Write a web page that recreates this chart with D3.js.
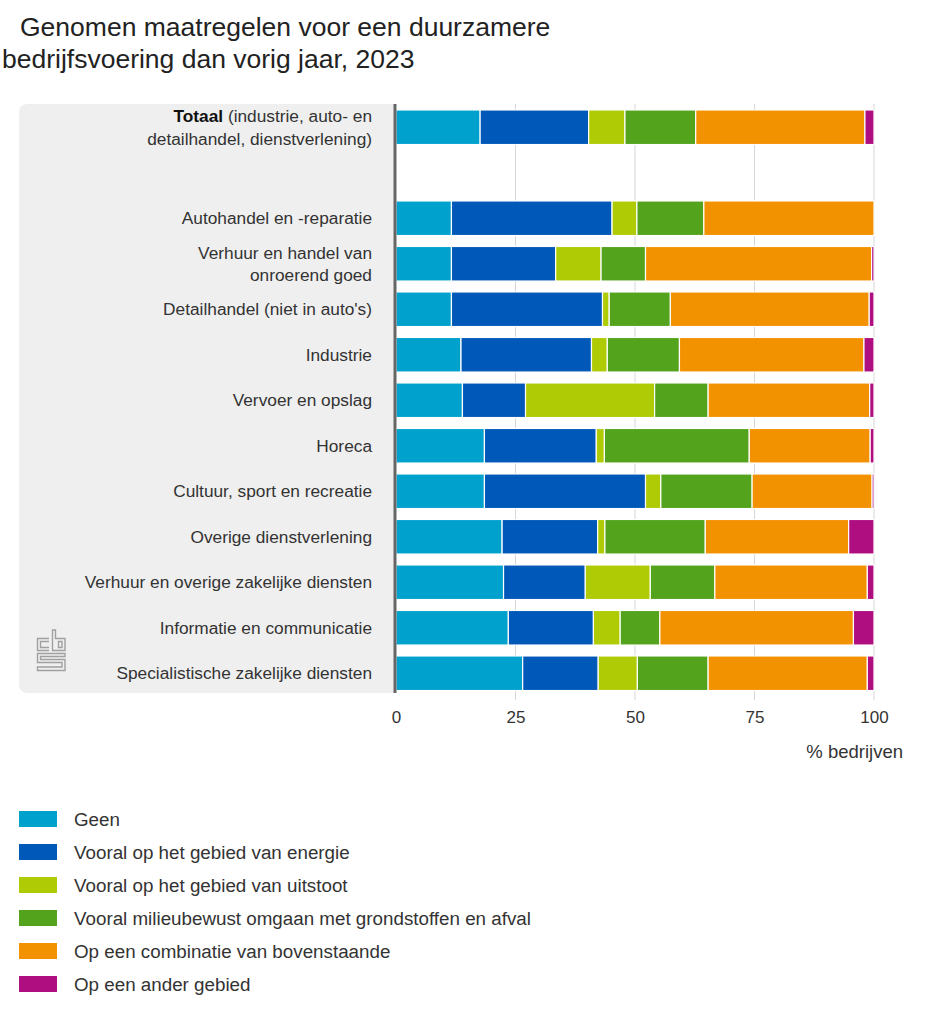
<!DOCTYPE html>
<html lang="nl">
<head>
<meta charset="UTF-8">
<title>Genomen maatregelen</title>
<script src="https://d3js.org/d3.v7.min.js"></script>
<style>
  body { margin: 0; background: #fff; font-family: "Liberation Sans", Arial, sans-serif; }
  svg { display: block; }
  .title { font-size: 26.5px; fill: #222; }
  .cat { font-size: 17.3px; fill: #333; }
  .tick text { font-size: 17px; fill: #333; font-family: "Liberation Sans", Arial, sans-serif; }
  .legend text { font-size: 18.8px; fill: #333; }
</style>
</head>
<body>
<svg id="chart" width="945" height="1024"></svg>
<script>
// categories (top to bottom), "gap" is the empty slot under Totaal
const categories = [
  "Totaal", "gap",
  "Autohandel en -reparatie",
  "Verhuur en handel van onroerend goed",
  "Detailhandel (niet in auto's)",
  "Industrie",
  "Vervoer en opslag",
  "Horeca",
  "Cultuur, sport en recreatie",
  "Overige dienstverlening",
  "Verhuur en overige zakelijke diensten",
  "Informatie en communicatie",
  "Specialistische zakelijke diensten"
];
const seriesNames = [
  "Geen",
  "Vooral op het gebied van energie",
  "Vooral op het gebied van uitstoot",
  "Vooral milieubewust omgaan met grondstoffen en afval",
  "Op een combinatie van bovenstaande",
  "Op een ander gebied"
];
const seriesColors = ["#00a1cd", "#0058b8", "#afcb05", "#53a31d", "#f39200", "#af0e80"];

// values in % bedrijven, same order as categories (null for the gap)
const geen       = [17.6, null, 11.6, 11.6, 11.6, 13.6, 13.9, 18.5, 18.5, 22.2, 22.5, 23.5, 26.5];
const energie    = [22.7, null, 33.6, 21.8, 31.6, 27.3, 13.2, 23.4, 33.7, 20.0, 17.1, 17.8, 15.8];
const uitstoot   = [7.6,  null, 5.2,  9.5,  1.4,  3.3,  27.0, 1.7,  3.2,  1.5,  13.6, 5.6,  8.2];
const milieu     = [14.8, null, 14.0, 9.3,  12.8, 15.1, 11.2, 30.3, 19.1, 21.0, 13.5, 8.3,  14.8];
const combinatie = [35.4, null, 35.6, 47.3, 41.6, 38.6, 33.8, 25.3, 25.1, 30.0, 31.9, 40.5, 33.3];
const ander      = [1.9,  null, 0.0,  0.5,  1.0,  2.1,  0.9,  0.8,  0.4,  5.3,  1.4,  4.3,  1.4];
const xTicks = [0, 25, 50, 75, 100];

const svg = d3.select("#chart");
const seriesKeys = ["geen", "energie", "uitstoot", "milieu", "combinatie", "ander"];
const table = categories.map((c, i) => ({
  cat: c, geen: geen[i], energie: energie[i], uitstoot: uitstoot[i],
  milieu: milieu[i], combinatie: combinatie[i], ander: ander[i]
})).filter(d => d.cat !== "gap");

const x = d3.scaleLinear().domain([0, 100]).range([396, 874]);
const y = d3.scaleBand().domain(categories).range([104.5, 696]).paddingInner(0.24).paddingOuter(0.12);

// title
svg.append("text").attr("class", "title").attr("x", 20).attr("y", 36).text("Genomen maatregelen voor een duurzamere");
svg.append("text").attr("class", "title").attr("x", 2).attr("y", 68).text("bedrijfsvoering dan vorig jaar, 2023");

// grey label panel
svg.append("path")
  .attr("fill", "#efefef")
  .attr("d", () => {
    const x0 = 19, x1 = 396, y0 = 104, y1 = 693, r = 9;
    return `M${x1},${y0} H${x0 + r} Q${x0},${y0} ${x0},${y0 + r} V${y1 - r} Q${x0},${y1} ${x0 + r},${y1} H${x1} Z`;
  });

// gridlines
svg.append("g").selectAll("line").data(xTicks.slice(1)).join("line")
  .attr("x1", d => x(d)).attr("x2", d => x(d))
  .attr("y1", 104).attr("y2", 700)
  .attr("stroke", "#d6d6d6").attr("stroke-width", 1);

// stacked bars
const stack = d3.stack().keys(seriesKeys)(table);
svg.append("g").selectAll("g").data(stack).join("g")
  .attr("fill", (d, i) => seriesColors[i])
  .selectAll("rect").data(d => d.filter(p => p[1] - p[0] > 0)).join("rect")
  .attr("x", d => x(d[0]))
  .attr("width", d => x(d[1]) - x(d[0]))
  .attr("y", d => y(d.data.cat))
  .attr("height", y.bandwidth())
  .attr("stroke", "#fff").attr("stroke-width", 1.2);

// baseline
svg.append("line").attr("x1", 395).attr("x2", 395).attr("y1", 104).attr("y2", 693)
  .attr("stroke", "#666").attr("stroke-width", 3);

// category labels
const labelLines = {
  "Verhuur en handel van onroerend goed": ["Verhuur en handel van", "onroerend goed"]
};
const labels = svg.append("g");
categories.forEach(c => {
  if (c === "gap") return;
  const cy = y(c) + y.bandwidth() / 2;
  if (c === "Totaal") {
    const t1 = labels.append("text").attr("class", "cat").attr("x", 372).attr("y", cy - 5).attr("text-anchor", "end");
    t1.append("tspan").attr("font-weight", "bold").attr("fill", "#111").text("Totaal");
    t1.append("tspan").text(" (industrie, auto- en");
    labels.append("text").attr("class", "cat").attr("x", 372).attr("y", cy + 17.5).attr("text-anchor", "end")
      .text("detailhandel, dienstverlening)");
  } else if (labelLines[c]) {
    labelLines[c].forEach((l, k) => {
      labels.append("text").attr("class", "cat").attr("x", 372).attr("y", cy - 5 + k * 22.5)
        .attr("text-anchor", "end").text(l);
    });
  } else {
    labels.append("text").attr("class", "cat").attr("x", 372).attr("y", cy + 6)
      .attr("text-anchor", "end").text(c);
  }
});

// x axis
const xAxis = svg.append("g").attr("transform", "translate(0,700)")
  .call(d3.axisBottom(x).tickValues(xTicks).tickSize(0).tickPadding(11));
xAxis.select(".domain").remove();
svg.append("text").attr("x", 903).attr("y", 758).attr("text-anchor", "end")
  .attr("font-size", 18.5).attr("fill", "#333").text("% bedrijven");

// cbs logo
const logo = svg.append("g").attr("fill", "none").attr("stroke", "#a0a0a0").attr("stroke-width", 1.4);
logo.append("path").attr("d", "M49,638.5 H37.5 V650.5 H49 M49,641.5 H40.5 V647.5 H49");
logo.append("path").attr("d", "M52.5,630 V650.5 H65 V638.5 H55.5 V630 Z M58.5,641.5 H62 V647.5 H58.5 Z");
logo.append("path").attr("d", "M65,653.5 H37.5 V662.5 H62 V667 H37.5 V670.5 H65 V659.5 H40.5 V656.5 H65 Z");

// legend
const legend = svg.append("g").attr("class", "legend");
seriesNames.forEach((n, i) => {
  const ly = 811 + i * 33;
  legend.append("rect").attr("x", 19).attr("y", ly).attr("width", 38).attr("height", 16).attr("fill", seriesColors[i]);
  legend.append("text").attr("x", 74).attr("y", ly + 15).text(n);
});
</script>
</body>
</html>
